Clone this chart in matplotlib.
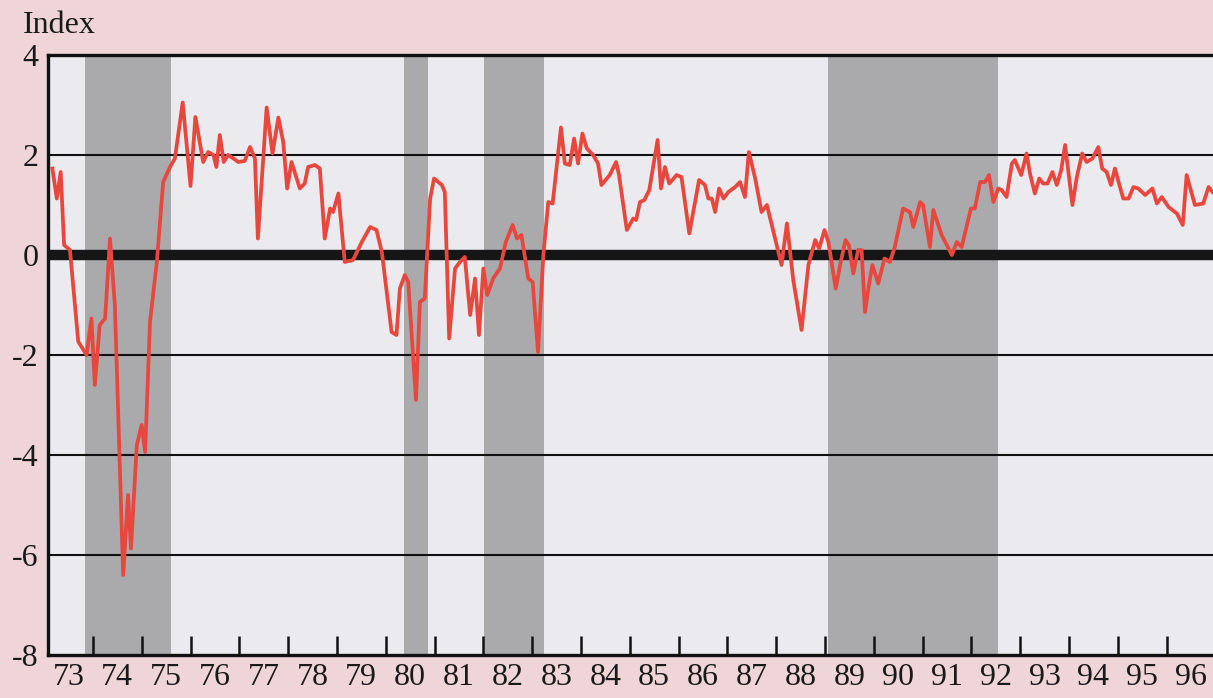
import matplotlib
matplotlib.use("Agg")
import matplotlib.pyplot as plt

# Index series (decimal year, index value)
dates = [1973.17, 1973.26, 1973.34, 1973.41, 1973.53, 1973.70, 1973.87, 1973.97,
         1974.04, 1974.14, 1974.25, 1974.35, 1974.45, 1974.62, 1974.72, 1974.78,
         1974.90, 1975.00, 1975.07, 1975.17, 1975.31, 1975.44, 1975.58, 1975.68,
         1975.84, 1976.00, 1976.10, 1976.26, 1976.36, 1976.47, 1976.53, 1976.60,
         1976.68, 1976.77, 1976.88, 1976.98, 1977.11, 1977.22, 1977.32, 1977.38,
         1977.49, 1977.56, 1977.68, 1977.80, 1977.90, 1977.98, 1978.07, 1978.24,
         1978.34, 1978.41, 1978.55, 1978.65, 1978.75, 1978.86, 1978.92, 1979.03,
         1979.16, 1979.33, 1979.51, 1979.68, 1979.81, 1979.92, 1980.12, 1980.22,
         1980.29, 1980.39, 1980.46, 1980.62, 1980.70, 1980.80, 1980.91, 1980.99,
         1981.15, 1981.21, 1981.30, 1981.42, 1981.52, 1981.62, 1981.73, 1981.83,
         1981.91, 1982.00, 1982.08, 1982.20, 1982.34, 1982.46, 1982.60, 1982.69,
         1982.78, 1982.92, 1983.01, 1983.12, 1983.23, 1983.33, 1983.42, 1983.59,
         1983.67, 1983.77, 1983.86, 1983.94, 1984.03, 1984.12, 1984.25, 1984.35,
         1984.42, 1984.59, 1984.72, 1984.78, 1984.94, 1985.07, 1985.13, 1985.21,
         1985.30, 1985.40, 1985.57, 1985.64, 1985.72, 1985.81, 1985.96, 1986.06,
         1986.22, 1986.42, 1986.54, 1986.61, 1986.68, 1986.75, 1986.83, 1986.92,
         1987.02, 1987.16, 1987.26, 1987.36, 1987.44, 1987.57, 1987.70, 1987.81,
         1988.01, 1988.11, 1988.22, 1988.35, 1988.52, 1988.66, 1988.80, 1988.88,
         1988.99, 1989.07, 1989.22, 1989.31, 1989.42, 1989.49, 1989.58, 1989.68,
         1989.75, 1989.82, 1989.90, 1989.97, 1990.09, 1990.22, 1990.33, 1990.43,
         1990.60, 1990.74, 1990.81, 1990.95, 1991.01, 1991.15, 1991.22, 1991.39,
         1991.60, 1991.70, 1991.80, 1991.99, 1992.07, 1992.18, 1992.28, 1992.36,
         1992.45, 1992.55, 1992.62, 1992.72, 1992.83, 1992.89, 1993.02, 1993.13,
         1993.20, 1993.30, 1993.39, 1993.47, 1993.56, 1993.66, 1993.75, 1993.84,
         1993.92, 1994.07, 1994.16, 1994.27, 1994.36, 1994.48, 1994.60, 1994.68,
         1994.77, 1994.86, 1994.94, 1995.11, 1995.22, 1995.32, 1995.42, 1995.56,
         1995.71, 1995.80, 1995.90, 1996.04, 1996.21, 1996.33, 1996.41, 1996.58,
         1996.75, 1996.86, 1996.94]
index_vals = [1.73, 1.13, 1.66, 0.20, 0.10, -1.73, -2.00, -1.27,
              -2.60, -1.40, -1.27, 0.33, -1.00, -6.40, -4.80, -5.87,
              -3.80, -3.40, -3.94, -1.34, -0.14, 1.46, 1.76, 1.93,
              3.05, 1.38, 2.76, 1.86, 2.06, 2.00, 1.76, 2.40,
              1.86, 2.00, 1.93, 1.86, 1.88, 2.16, 1.93, 0.33,
              1.93, 2.95, 2.03, 2.75, 2.26, 1.33, 1.86, 1.33,
              1.43, 1.76, 1.80, 1.73, 0.33, 0.93, 0.86, 1.23,
              -0.14, -0.10, 0.26, 0.56, 0.50, 0.06, -1.54, -1.60,
              -0.67, -0.40, -0.54, -2.90, -0.94, -0.87, 1.13, 1.53,
              1.40, 1.26, -1.67, -0.27, -0.14, -0.04, -1.20, -0.47,
              -1.60, -0.27, -0.80, -0.47, -0.27, 0.26, 0.60, 0.33,
              0.40, -0.47, -0.54, -1.94, 0.00, 1.06, 1.03, 2.55,
              1.83, 1.80, 2.33, 1.83, 2.43, 2.13, 2.00, 1.83,
              1.40, 1.60, 1.86, 1.60, 0.50, 0.73, 0.70, 1.06,
              1.10, 1.30, 2.30, 1.33, 1.76, 1.43, 1.60, 1.56,
              0.43, 1.50, 1.40, 1.13, 1.13, 0.86, 1.33, 1.13,
              1.26, 1.36, 1.46, 1.16, 2.06, 1.53, 0.86, 1.00,
              0.20, -0.20, 0.63, -0.50, -1.50, -0.20, 0.30, 0.13,
              0.50, 0.26, -0.67, -0.20, 0.30, 0.20, -0.37, 0.10,
              0.10, -1.14, -0.60, -0.20, -0.57, -0.07, -0.14, 0.16,
              0.93, 0.86, 0.56, 1.06, 1.00, 0.16, 0.90, 0.40,
              0.00, 0.26, 0.16, 0.93, 0.93, 1.46, 1.46, 1.60,
              1.06, 1.33, 1.30, 1.16, 1.83, 1.90, 1.60, 2.03,
              1.63, 1.23, 1.53, 1.43, 1.43, 1.66, 1.40, 1.70,
              2.20, 1.00, 1.56, 2.03, 1.86, 1.93, 2.16, 1.73,
              1.66, 1.40, 1.73, 1.13, 1.13, 1.36, 1.33, 1.20,
              1.33, 1.03, 1.16, 0.96, 0.83, 0.60, 1.60, 1.00,
              1.03, 1.36, 1.26]

# Shaded periods (start, end in decimal years)
shade_start = [1973.84, 1980.37, 1982.01, 1989.06]
shade_end = [1975.61, 1980.86, 1983.24, 1992.55]

year_labels = [str(y) for y in range(73, 97)]
y_ticks = [4, 2, 0, -2, -4, -6, -8]

PINK = "#efd5d8"
PANEL = "#ebeaee"
SHADE = "#aaaaad"
RED = "#e8473d"

fig = plt.figure(figsize=(12.13, 6.98), dpi=100)
fig.patch.set_facecolor(PINK)
ax = fig.add_axes([48 / 1213, 43 / 698, 1 - 48 / 1213, 600 / 698])
ax.set_facecolor(PANEL)

for s, e in zip(shade_start, shade_end):
    ax.axvspan(s, e, color=SHADE, lw=0, zorder=1)

for y in [2, -2, -4, -6]:
    ax.axhline(y, color="#111111", lw=1.5, zorder=2)
ax.axhline(0, color="#161616", lw=7.5, zorder=3)

ax.plot(dates, index_vals, color=RED, lw=2.7, zorder=4, solid_joinstyle="round")

ax.set_xlim(1973.08, 1996.95)
ax.set_ylim(-8, 4)

# year boundaries as tick marks, labels centred mid-year
ax.set_xticks(range(1974, 1997))
ax.set_xticklabels([])
ax.set_xticks([1973.5 + i for i in range(len(year_labels))], minor=True)
ax.set_xticklabels(year_labels, minor=True)
ax.tick_params(axis="x", which="major", direction="in", length=14, width=1.8,
               color="#111111")
ax.tick_params(axis="x", which="minor", length=0, pad=6, labelsize=23)

ax.set_yticks(y_ticks)
ax.set_yticklabels([str(v) for v in y_ticks])
ax.tick_params(axis="y", length=0, pad=7, labelsize=23)

for lab in ax.get_xticklabels(minor=True) + ax.get_yticklabels():
    lab.set_fontfamily("Liberation Serif")
    lab.set_color("#1a1a1a")

for side in ["left", "bottom", "top"]:
    ax.spines[side].set_linewidth(2.4)
    ax.spines[side].set_color("#111111")
ax.spines["right"].set_visible(False)

fig.text(23 / 1213, 1 - 33 / 698, "Index", fontsize=23, family="Liberation Serif",
         color="#1a1a1a", ha="left", va="baseline")

fig.savefig("out.png", dpi=100, facecolor=PINK)
